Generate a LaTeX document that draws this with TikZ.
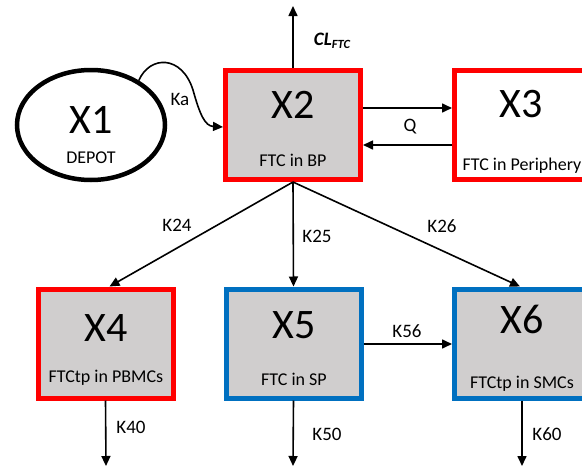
\documentclass[tikz,border=0pt]{standalone}
\usepackage{fontspec}
\setmainfont{Carlito}
\usetikzlibrary{arrows.meta,shapes.geometric}
\definecolor{boxgray}{RGB}{208,206,206}
\definecolor{boxred}{RGB}{255,0,0}
\definecolor{boxblue}{RGB}{0,112,192}
\tikzset{
  comp/.style={rectangle, line width=5pt, minimum width=135pt, minimum height=109pt, inner sep=0pt},
  redcomp/.style={comp, draw=boxred, fill=boxgray},
  bluecomp/.style={comp, draw=boxblue, fill=boxgray},
  bigtxt/.style={anchor=base, inner sep=0pt, font=\fontsize{42}{44}\selectfont},
  smalltxt/.style={anchor=base, inner sep=0pt, font=\fontsize{18}{20}\selectfont},
  lbl/.style={anchor=base, inner sep=0pt, font=\fontsize{19}{21}\selectfont},
  flow/.style={line width=1.6pt, -{Triangle[length=10pt,width=9pt]}}
}
\begin{document}
\begin{tikzpicture}[x=1pt,y=-1pt]
\useasboundingbox (0,0) rectangle (582,466);
% compartments
\node[ellipse, draw=black, line width=4.5pt, minimum width=148pt, minimum height=110pt, inner sep=0pt] (X1) at (91,125) {};
\node[redcomp] (X2) at (293,125) {};
\node[comp, draw=boxred, fill=white] (X3) at (522,125) {};
\node[redcomp] (X4) at (105.5,343.5) {};
\node[bluecomp] (X5) at (293.5,343.5) {};
\node[bluecomp] (X6) at (522,343.5) {};
% texts
\node[bigtxt] (t1) at (91,133) {X1};
\node[smalltxt] (s1) at (91,163) {DEPOT};
\node[bigtxt] (t2) at (293,118) {X2};
\node[smalltxt] (s2) at (293,166) {FTC in BP};
\node[bigtxt] (t3) at (521,117) {X3};
\node[smalltxt] (s3) at (522,170) {FTC in Periphery};
\node[bigtxt] (t4) at (106,341) {X4};
\node[smalltxt] (s4) at (106,382) {FTCtp in PBMCs};
\node[bigtxt] (t5) at (294,338) {X5};
\node[smalltxt] (s5) at (294,385) {FTC in SP};
\node[bigtxt] (t6) at (522,333) {X6};
\node[smalltxt] (s6) at (522,388) {FTCtp in SMCs};
% free ends
\coordinate (up) at (293,6);
\coordinate (d4) at (106,466);
\coordinate (d5) at (293,466);
\coordinate (d6) at (522,466);
% connectors
\draw[flow] (X2.north) -- (up);
\draw[flow] ([yshift=17pt]X2.east) -- ([yshift=17pt]X3.west);
\draw[flow] ([yshift=-20pt]X3.west) -- ([yshift=-20pt]X2.east);
\draw[flow] (X1.43) .. controls (150,55) and (182,55) .. (193,90) .. controls (200,115) and (205,126) .. ([yshift=-2pt]X2.west);
\draw[flow] (X2.south) -- ([xshift=4pt]X4.north);
\draw[flow] (X2.south) -- (X5.north);
\draw[flow] (X2.south) -- ([xshift=-2pt]X6.north);
\draw[flow] ([yshift=-0.5pt]X5.east) -- ([yshift=-0.5pt]X6.west);
\draw[flow] (X4.south) -- (d4);
\draw[flow] (X5.south) -- (d5);
\draw[flow] (X6.south) -- (d6);
% labels
\node[lbl] (lka) at (180,105) {Ka};
\node[lbl] (lq) at (410,131) {Q};
\node[anchor=base, inner sep=0pt, font=\fontsize{19}{21}\selectfont\bfseries\itshape] (lcl) at (332,45) {CL\raisebox{-3.5pt}{\fontsize{12.5}{14}\selectfont FTC}};
\node[lbl] (l24) at (177,231) {K24};
\node[lbl] (l25) at (317,242) {K25};
\node[lbl] (l26) at (442,232) {K26};
\node[lbl] (l56) at (407,337) {K56};
\node[lbl] (l40) at (131,433) {K40};
\node[lbl] (l50) at (327,440) {K50};
\node[lbl] (l60) at (547,440) {K60};
\end{tikzpicture}
\end{document}
